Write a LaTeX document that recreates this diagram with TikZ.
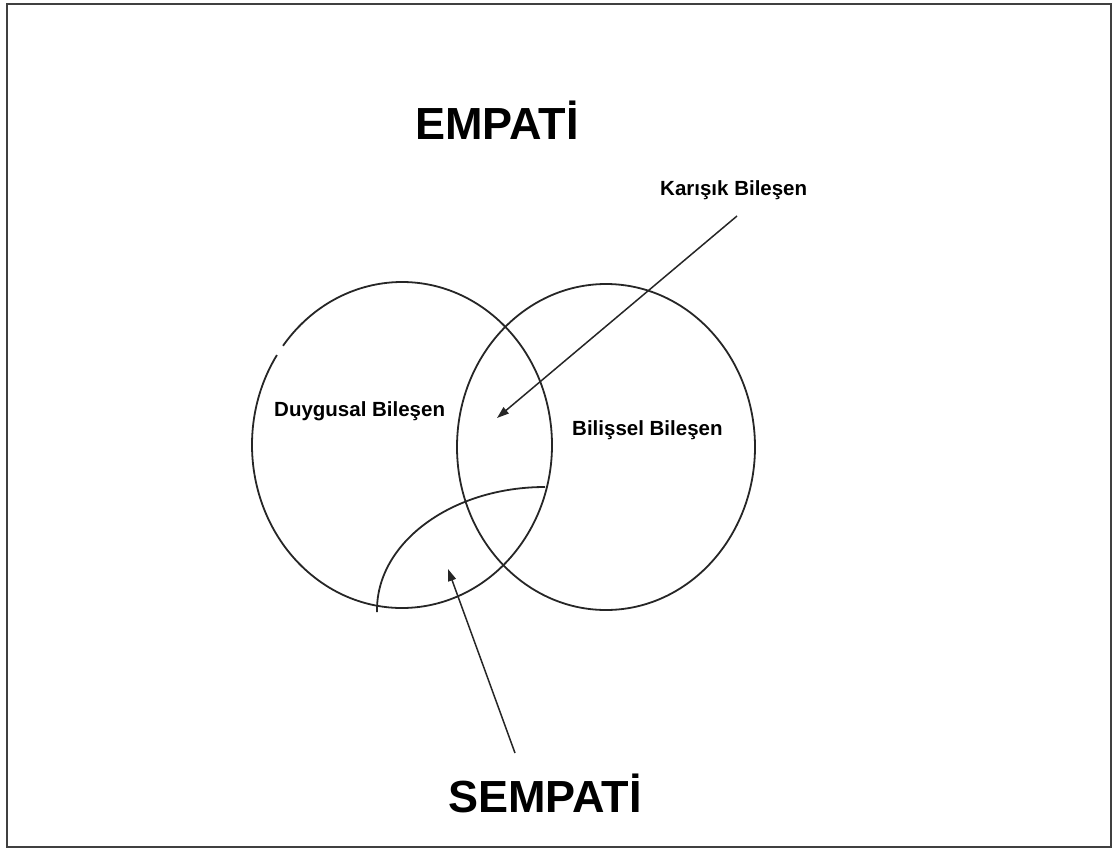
\documentclass[tikz,border=0pt]{standalone}
\usepackage{fontspec}
\setmainfont{Liberation Sans}
\usetikzlibrary{arrows.meta}
\begin{document}
\begin{tikzpicture}[x=1pt,y=-1pt,
  line/.style={draw=black!85, line width=1.8pt},
  frame/.style={draw=black!75, line width=2.2pt},
  bigtitle/.style={font=\fontsize{45}{48}\selectfont\bfseries, anchor=base west, inner sep=0pt},
  smalllabel/.style={font=\fontsize{20.5}{22}\selectfont\bfseries, anchor=base west, inner sep=0pt},
  pointer/.style={line, line width=1.5pt, -{Triangle[length=12pt,width=8pt]}}]
\useasboundingbox (0,0) rectangle (1117,849);
\draw[frame] (7,4) rectangle (1111,847);
% titles
\node[bigtitle] (empati) at (415,139) {EMPATİ};
\node[bigtitle] (sempati) at (448,812) {SEMPATİ};
% labels
\node[smalllabel] (karisik) at (660,195) {Karışık Bileşen};
\node[smalllabel] (duygusal) at (274,416) {Duygusal Bileşen};
\node[smalllabel] (bilissel) at (572,435) {Bilişsel Bileşen};
% circles
\draw[line] (402,445) ++(-142.5:150 and 163) arc[start angle=-142.5, end angle=213.5, x radius=150, y radius=163];
\draw[line] (606,447) ellipse[x radius=149, y radius=163];
% sempati arc
\draw[line] (377,612) -- (377,610) arc[start angle=180, end angle=270, x radius=168, y radius=123];
% arrows
\coordinate (kstart) at (737,216);
\coordinate (ktip) at (497,418);
\coordinate (sstart) at (515,753);
\coordinate (stip) at (448,569);
\draw[pointer] (kstart) -- (ktip);
\draw[pointer] (sstart) -- (stip);
\end{tikzpicture}
\end{document}
